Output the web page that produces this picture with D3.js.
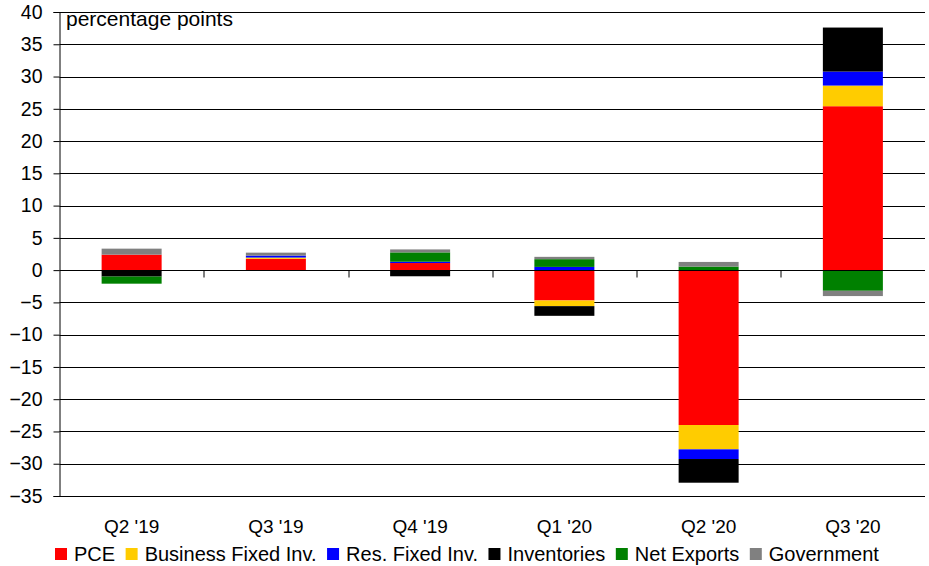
<!DOCTYPE html>
<html>
<head>
<meta charset="utf-8">
<script src="https://d3js.org/d3.v7.min.js"></script>
<style>
  body { margin: 0; background: #fff; }
  text { font-family: "Liberation Sans", Arial, sans-serif; fill: #000; }
</style>
</head>
<body>
<div id="chart"></div>
<script>
// contributions to real GDP growth, percentage points
var quarters = ["Q2 '19", "Q3 '19", "Q4 '19", "Q1 '20", "Q2 '20", "Q3 '20"];
var pce = [2.4, 1.75, 1.1, -4.7, -24.0, 25.4];
var businessInv = [0, 0.2, 0, -0.88, -3.77, 3.2];
var resInv = [0, 0.3, 0.2, 0.5, -1.5, 2.17];
var inventories = [-1.0, 0, -0.95, -1.5, -3.67, 6.82];
var netExports = [-1.1, 0, 1.45, 1.2, 0.55, -3.2];
var government = [0.93, 0.46, 0.46, 0.36, 0.72, -0.82];
var yTicks = [40, 35, 30, 25, 20, 15, 10, 5, 0, -5, -10, -15, -20, -25, -30, -35];

var seriesNames = ["PCE", "Business Fixed Inv.", "Res. Fixed Inv.", "Inventories", "Net Exports", "Government"];
var seriesValues = [pce, businessInv, resInv, inventories, netExports, government];
var colors = ["#ff0000", "#ffcc00", "#0000ff", "#000000", "#008000", "#808080"];

var svgWidth = 929;
var svgHeight = 566;
var margin = { top: 12, right: 4, bottom: 70, left: 59.5 };
var width = svgWidth - margin.left - margin.right;
var height = svgHeight - margin.top - margin.bottom;

var table = quarters.map(function(q, i) {
  var row = { quarter: q };
  seriesNames.forEach(function(name, j) { row[name] = seriesValues[j][i]; });
  return row;
});

var stack = d3.stack()
  .keys(seriesNames)
  .order(d3.stackOrderNone)
  .offset(d3.stackOffsetDiverging);
var layers = stack(table);

var svg = d3.select("#chart")
  .append("svg")
  .attr("width", svgWidth)
  .attr("height", svgHeight);

var chart = svg.append("g")
  .attr("transform", "translate(" + margin.left + "," + margin.top + ")");

var xScale = d3.scaleBand()
  .domain(quarters)
  .range([0, width])
  .paddingInner(0.584)
  .paddingOuter(0.292);

var yScale = d3.scaleLinear()
  .domain([-35, 40])
  .range([height, 0]);

// gridlines
chart.append("g")
  .selectAll("line")
  .data(yTicks.filter(function(d) { return d !== 0; }))
  .enter().append("line")
  .attr("x1", 0)
  .attr("x2", width)
  .attr("y1", function(d) { return Math.round(yScale(d)) + 0.5; })
  .attr("y2", function(d) { return Math.round(yScale(d)) + 0.5; })
  .attr("stroke", "#000")
  .attr("stroke-width", 1);

// bars
chart.append("g")
  .selectAll("g")
  .data(layers)
  .enter().append("g")
  .attr("fill", function(d, i) { return colors[i]; })
  .selectAll("rect")
  .data(function(d) { return d; })
  .enter().append("rect")
  .attr("x", function(d) { return xScale(d.data.quarter); })
  .attr("width", xScale.bandwidth())
  .attr("y", function(d) { return yScale(Math.max(d[0], d[1])); })
  .attr("height", function(d) { return Math.abs(yScale(d[0]) - yScale(d[1])); });

// left axis
var leftAxis = d3.axisLeft(yScale)
  .tickValues(yTicks)
  .tickSize(6)
  .tickPadding(11);

chart.append("g")
  .call(leftAxis)
  .call(function(g) {
    g.select(".domain").attr("stroke", "#000");
    g.selectAll(".tick line").attr("stroke", "#000");
    g.selectAll(".tick text")
      .attr("font-size", 19.5)
      .attr("font-family", "Liberation Sans, Arial, sans-serif")
      .attr("fill", "#000");
  });

// zero line with category ticks
var zeroY = Math.round(yScale(0)) + 0.5;
chart.append("line")
  .attr("x1", 0)
  .attr("x2", width)
  .attr("y1", zeroY)
  .attr("y2", zeroY)
  .attr("stroke", "#000");

var step = xScale.step();
chart.append("g")
  .selectAll("line")
  .data(d3.range(1, quarters.length))
  .enter().append("line")
  .attr("x1", function(d) { return Math.round(d * step) + 0.5; })
  .attr("x2", function(d) { return Math.round(d * step) + 0.5; })
  .attr("y1", zeroY)
  .attr("y2", zeroY + 7)
  .attr("stroke", "#000");

// category labels
chart.append("g")
  .selectAll("text")
  .data(quarters)
  .enter().append("text")
  .attr("x", function(d) { return xScale(d) + xScale.bandwidth() / 2; })
  .attr("y", height + 37)
  .attr("text-anchor", "middle")
  .attr("font-size", 19)
  .text(function(d) { return d; });

chart.append("text")
  .attr("x", 6.5)
  .attr("y", 14)
  .attr("font-size", 21)
  .text("percentage points");

// legend
var legend = svg.append("g")
  .attr("transform", "translate(55, 561)");
var lx = 0;
seriesNames.forEach(function(name, i) {
  legend.append("rect")
    .attr("x", lx)
    .attr("y", -13)
    .attr("width", 12)
    .attr("height", 12)
    .attr("fill", colors[i]);
  var t = legend.append("text")
    .attr("x", lx + 19)
    .attr("y", 0)
    .attr("font-size", 20)
    .text(name);
  lx += 19 + t.node().getComputedTextLength() + 10.5;
});
</script>
</body>
</html>
